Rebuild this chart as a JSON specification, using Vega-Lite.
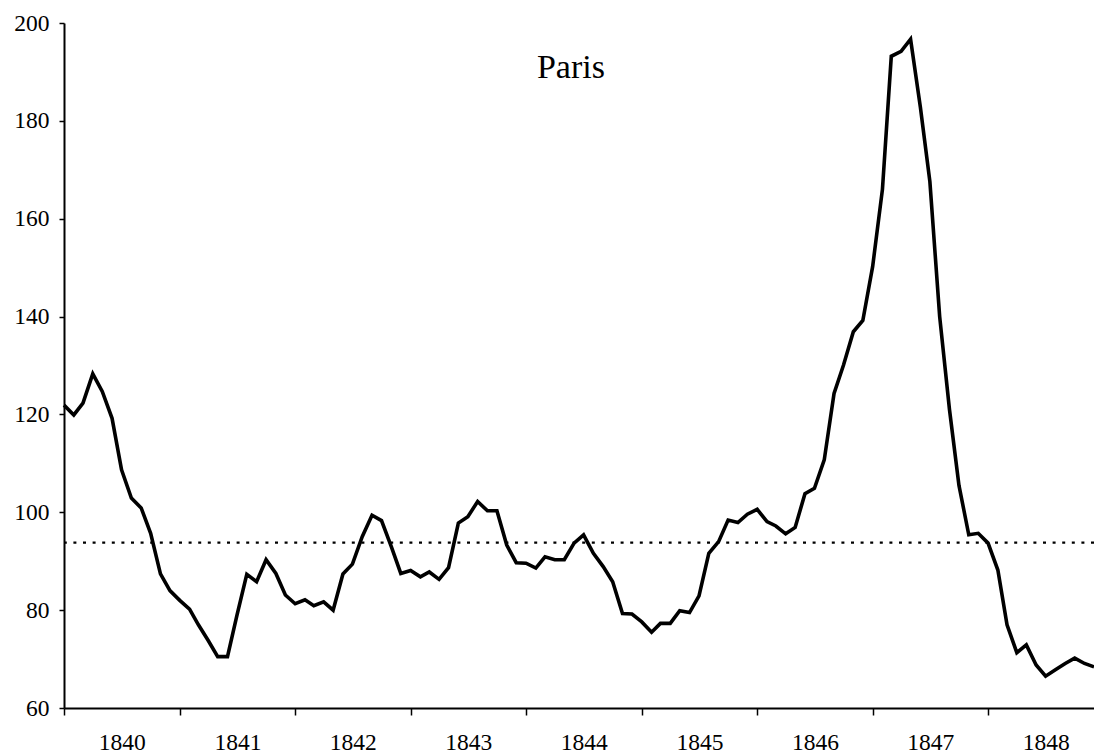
{
  "$schema": "https://vega.github.io/schema/vega-lite/v6.json",
  "width": 1030,
  "height": 685,
  "autosize": {"type": "none"},
  "padding": {"left": 64, "top": 23, "right": 0, "bottom": 48},
  "background": "white",
  "config": {"view": {"stroke": null}, "font": "Liberation Serif"},
  "data": {"values": [
    {"date": "1840-01-01", "price": 121.9}, {"date": "1840-02-01", "price": 119.9}, {"date": "1840-03-01", "price": 122.3}, {"date": "1840-04-01", "price": 128.3},
    {"date": "1840-05-01", "price": 124.7}, {"date": "1840-06-01", "price": 119.2}, {"date": "1840-07-01", "price": 108.7}, {"date": "1840-08-01", "price": 102.9},
    {"date": "1840-09-01", "price": 100.9}, {"date": "1840-10-01", "price": 95.7}, {"date": "1840-11-01", "price": 87.4}, {"date": "1840-12-01", "price": 84.0},
    {"date": "1841-01-01", "price": 82.0}, {"date": "1841-02-01", "price": 80.2}, {"date": "1841-03-01", "price": 77.0}, {"date": "1841-04-01", "price": 73.8},
    {"date": "1841-05-01", "price": 70.5}, {"date": "1841-06-01", "price": 70.5}, {"date": "1841-07-01", "price": 79.0}, {"date": "1841-08-01", "price": 87.3},
    {"date": "1841-09-01", "price": 85.8}, {"date": "1841-10-01", "price": 90.3}, {"date": "1841-11-01", "price": 87.5}, {"date": "1841-12-01", "price": 83.1},
    {"date": "1842-01-01", "price": 81.3}, {"date": "1842-02-01", "price": 82.1}, {"date": "1842-03-01", "price": 80.9}, {"date": "1842-04-01", "price": 81.7},
    {"date": "1842-05-01", "price": 80.0}, {"date": "1842-06-01", "price": 87.4}, {"date": "1842-07-01", "price": 89.4}, {"date": "1842-08-01", "price": 95.0},
    {"date": "1842-09-01", "price": 99.4}, {"date": "1842-10-01", "price": 98.3}, {"date": "1842-11-01", "price": 93.0}, {"date": "1842-12-01", "price": 87.5},
    {"date": "1843-01-01", "price": 88.1}, {"date": "1843-02-01", "price": 86.8}, {"date": "1843-03-01", "price": 87.8}, {"date": "1843-04-01", "price": 86.3},
    {"date": "1843-05-01", "price": 88.7}, {"date": "1843-06-01", "price": 97.8}, {"date": "1843-07-01", "price": 99.1}, {"date": "1843-08-01", "price": 102.2},
    {"date": "1843-09-01", "price": 100.3}, {"date": "1843-10-01", "price": 100.3}, {"date": "1843-11-01", "price": 93.3}, {"date": "1843-12-01", "price": 89.7},
    {"date": "1844-01-01", "price": 89.6}, {"date": "1844-02-01", "price": 88.6}, {"date": "1844-03-01", "price": 90.9}, {"date": "1844-04-01", "price": 90.3},
    {"date": "1844-05-01", "price": 90.3}, {"date": "1844-06-01", "price": 93.7}, {"date": "1844-07-01", "price": 95.4}, {"date": "1844-08-01", "price": 91.6},
    {"date": "1844-09-01", "price": 88.9}, {"date": "1844-10-01", "price": 85.8}, {"date": "1844-11-01", "price": 79.3}, {"date": "1844-12-01", "price": 79.2},
    {"date": "1845-01-01", "price": 77.6}, {"date": "1845-02-01", "price": 75.5}, {"date": "1845-03-01", "price": 77.3}, {"date": "1845-04-01", "price": 77.3},
    {"date": "1845-05-01", "price": 79.9}, {"date": "1845-06-01", "price": 79.5}, {"date": "1845-07-01", "price": 82.9}, {"date": "1845-08-01", "price": 91.6},
    {"date": "1845-09-01", "price": 94.0}, {"date": "1845-10-01", "price": 98.4}, {"date": "1845-11-01", "price": 97.9}, {"date": "1845-12-01", "price": 99.6},
    {"date": "1846-01-01", "price": 100.6}, {"date": "1846-02-01", "price": 98.1}, {"date": "1846-03-01", "price": 97.2}, {"date": "1846-04-01", "price": 95.6},
    {"date": "1846-05-01", "price": 96.9}, {"date": "1846-06-01", "price": 103.8}, {"date": "1846-07-01", "price": 104.9}, {"date": "1846-08-01", "price": 110.7},
    {"date": "1846-09-01", "price": 124.3}, {"date": "1846-10-01", "price": 130.1}, {"date": "1846-11-01", "price": 136.9}, {"date": "1846-12-01", "price": 139.2},
    {"date": "1847-01-01", "price": 150.2}, {"date": "1847-02-01", "price": 166.0}, {"date": "1847-03-01", "price": 193.2}, {"date": "1847-04-01", "price": 194.2},
    {"date": "1847-05-01", "price": 196.7}, {"date": "1847-06-01", "price": 182.8}, {"date": "1847-07-01", "price": 167.6}, {"date": "1847-08-01", "price": 140.0},
    {"date": "1847-09-01", "price": 121.0}, {"date": "1847-10-01", "price": 105.5}, {"date": "1847-11-01", "price": 95.4}, {"date": "1847-12-01", "price": 95.7},
    {"date": "1848-01-01", "price": 93.7}, {"date": "1848-02-01", "price": 88.2}, {"date": "1848-03-01", "price": 77.0}, {"date": "1848-04-01", "price": 71.3},
    {"date": "1848-05-01", "price": 72.9}, {"date": "1848-06-01", "price": 68.8}, {"date": "1848-07-01", "price": 66.5}, {"date": "1848-08-01", "price": 67.8},
    {"date": "1848-09-01", "price": 69.1}, {"date": "1848-10-01", "price": 70.2}, {"date": "1848-11-01", "price": 69.1}, {"date": "1848-12-01", "price": 68.4}
  ]},
  "layer": [
    {
      "data": {"values": [{"mean": 93.8}]},
      "mark": {"type": "rule", "color": "black", "strokeWidth": 2.2, "strokeDash": [3, 6.6]},
      "encoding": {"y": {"field": "mean", "type": "quantitative"}}
    },
    {
      "mark": {"type": "line", "color": "black", "strokeWidth": 3.6},
      "encoding": {
        "x": {
          "field": "date", "type": "temporal",
          "scale": {"type": "utc", "domain": [{"year": 1840, "month": 1, "date": 1, "utc": true}, {"year": 1848, "month": 12, "date": 1, "utc": true}]},
          "axis": {
            "title": null, "grid": false,
            "tickCount": {"interval": "year", "step": 1},
            "labelExpr": "utcFormat(datum.value, '%Y')",
            "labelOffset": 57.7, "labelFlush": false, "labelOverlap": false, "labelBound": false,
            "tickSize": 7, "tickWidth": 1.5, "tickColor": "black",
            "domainColor": "black", "domainWidth": 2,
            "labelFont": "Liberation Serif", "labelFontSize": 23.5, "labelColor": "black", "labelPadding": 15
          }
        },
        "y": {
          "field": "price", "type": "quantitative",
          "scale": {"domain": [60, 200], "nice": false, "zero": false},
          "axis": {
            "title": null, "grid": false,
            "values": [60, 80, 100, 120, 140, 160, 180, 200],
            "tickSize": 5, "tickWidth": 1.5, "tickColor": "black",
            "domainColor": "black", "domainWidth": 2,
            "labelFont": "Liberation Serif", "labelFontSize": 23.5, "labelColor": "black", "labelPadding": 10
          }
        }
      }
    },
    {
      "data": {"values": [{"label": "Paris"}]},
      "mark": {"type": "text", "font": "Liberation Serif", "fontSize": 34, "color": "black", "align": "center", "baseline": "alphabetic"},
      "encoding": {
        "text": {"field": "label"},
        "x": {"datum": {"year": 1844, "month": 5, "date": 22, "utc": true}, "type": "temporal"},
        "y": {"datum": 188.8, "type": "quantitative"}
      }
    }
  ]
}
